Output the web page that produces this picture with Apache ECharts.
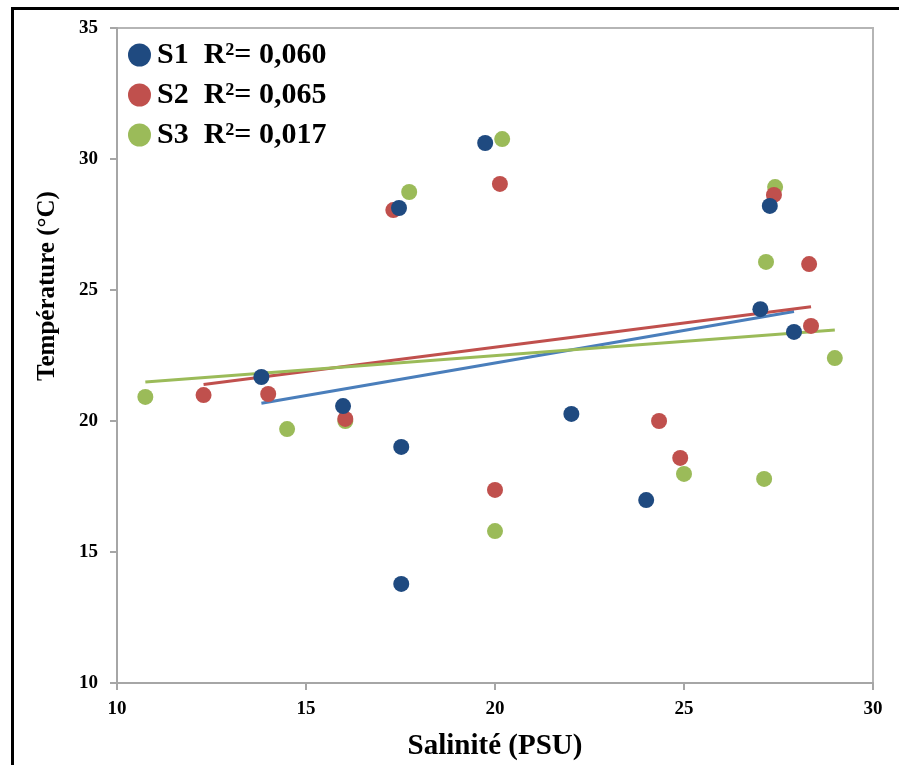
<!DOCTYPE html>
<html>
<head>
<meta charset="utf-8">
<title>Température vs Salinité</title>
<script src="https://cdn.jsdelivr.net/npm/echarts@6/dist/echarts.min.js"></script>
<style>
  html, body { margin: 0; padding: 0; background: #fff; }
  #chart { width: 899px; height: 765px; }
</style>
</head>
<body>
<div id="chart"></div>
<script>
// salinity (PSU) / temperature (°C) per station
const salS1 = [13.82, 15.98, 17.46, 17.52, 17.52, 19.74, 22.02, 24.0, 27.02, 27.27, 27.91]
const tempS1 = [21.68, 20.57, 28.13, 19.01, 13.78, 30.61, 20.27, 16.98, 24.27, 28.21, 23.4]

const salS2 = [12.29, 14.0, 16.04, 17.31, 20.13, 20.0, 24.34, 24.9, 27.38, 28.31, 28.36]
const tempS2 = [20.99, 21.03, 20.08, 28.05, 29.05, 17.37, 20.0, 18.59, 28.63, 25.99, 23.63]

const salS3 = [10.75, 14.5, 16.04, 17.73, 20.19, 20.0, 25.0, 27.17, 27.41, 27.12, 28.99]
const tempS3 = [20.92, 19.69, 20.0, 28.74, 30.76, 15.8, 17.98, 26.07, 28.93, 17.79, 22.4]

const stations = ['S1', 'S2', 'S3']
const r2Labels = ['0,060', '0,065', '0,017']
const xTicks = [10, 15, 20, 25, 30]
const yTicks = [10, 15, 20, 25, 30, 35]

const dotColors = ['#1f4a80', '#c0504d', '#9bbb59']
const lineColors = ['#4a7ebb', '#c0504d', '#9bbb59']
const serif = '"Liberation Serif", "DejaVu Serif", serif'

function pairs(xs, ys) {
  return xs.map((x, i) => [x, ys[i]])
}

// least squares line drawn over the station's salinity range
function trend(xs, ys) {
  const n = xs.length
  const mx = xs.reduce((a, b) => a + b, 0) / n
  const my = ys.reduce((a, b) => a + b, 0) / n
  let sxy = 0, sxx = 0
  xs.forEach((x, i) => {
    sxy += (x - mx) * (ys[i] - my)
    sxx += (x - mx) * (x - mx)
  })
  const b = sxy / sxx
  const a = my - b * mx
  const x0 = Math.min(...xs)
  const x1 = Math.max(...xs)
  return [[x0, a + b * x0], [x1, a + b * x1]]
}

const allSal = [salS1, salS2, salS3]
const allTemp = [tempS1, tempS2, tempS3]
const names = stations.map((s, i) => s + '  R²= ' + r2Labels[i])

const chart = echarts.init(document.getElementById('chart'))

const lineSeries = stations.map((s, i) => ({
  name: s + '-trend',
  type: 'line',
  data: trend(allSal[i], allTemp[i]),
  symbol: 'none',
  silent: true,
  z: 2,
  lineStyle: { color: lineColors[i], width: 3 }
}))

const dotSeries = stations.map((s, i) => ({
  name: names[i],
  type: 'scatter',
  data: pairs(allSal[i], allTemp[i]),
  symbol: 'circle',
  symbolSize: 16,
  z: 5 - i,
  itemStyle: { color: dotColors[i], opacity: 1 }
}))

const axisLine = { show: true, lineStyle: { color: '#a6a6a6', width: 2 } }
const tickLabel = { color: '#000', fontFamily: serif, fontWeight: 'bold', fontSize: 19 }

chart.setOption({
  animation: false,
  backgroundColor: '#fff',
  grid: {
    left: 117, right: 26, top: 28, bottom: 82,
    show: true, borderColor: '#b5b5b5', borderWidth: 2,
    outerBoundsMode: 'none'
  },
  legend: {
    data: names,
    orient: 'vertical',
    left: 123,
    top: 35,
    icon: 'circle',
    itemWidth: 23,
    itemHeight: 23,
    itemGap: 10,
    selectedMode: false,
    textStyle: {
      color: '#000', fontFamily: serif, fontWeight: 'bold',
      fontSize: 30, lineHeight: 30, padding: [0, 0, 0, 1]
    }
  },
  xAxis: {
    type: 'value',
    min: xTicks[0],
    max: xTicks[xTicks.length - 1],
    interval: 5,
    name: 'Salinité (PSU)',
    nameLocation: 'middle',
    nameGap: 49,
    nameTextStyle: { color: '#000', fontFamily: serif, fontWeight: 'bold', fontSize: 29 },
    axisLine: axisLine,
    axisTick: { show: true, inside: false, length: 7, lineStyle: { color: '#a6a6a6', width: 2 } },
    axisLabel: Object.assign({ margin: 17 }, tickLabel),
    splitLine: { show: false }
  },
  yAxis: {
    type: 'value',
    min: yTicks[0],
    max: yTicks[yTicks.length - 1],
    interval: 5,
    axisLine: axisLine,
    axisTick: { show: true, inside: false, length: 7, lineStyle: { color: '#a6a6a6', width: 2 } },
    axisLabel: Object.assign({ margin: 19 }, tickLabel),
    splitLine: { show: false }
  },
  graphic: [
    {
      type: 'rect',
      left: 10, top: 6,
      shape: { width: 1200, height: 1200 },
      style: { fill: 'none', stroke: '#000', lineWidth: 3 },
      silent: true,
      z: 100
    },
    {
      type: 'text',
      x: 48, y: 286,
      rotation: Math.PI / 2,
      style: {
        text: 'Température (°C)',
        fill: '#000',
        font: 'bold 25px ' + serif,
        align: 'center',
        verticalAlign: 'middle'
      }
    }
  ],
  series: lineSeries.concat(dotSeries)
})
</script>
</body>
</html>
